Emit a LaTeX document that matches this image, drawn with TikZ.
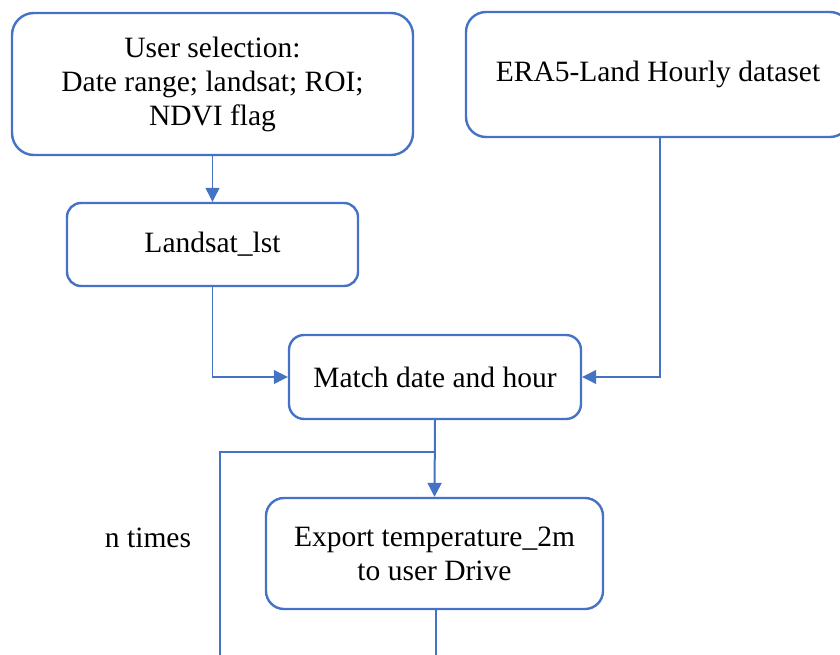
\documentclass[tikz,border=0pt]{standalone}
\usepackage{fontspec}
\setmainfont{Liberation Serif}
\usetikzlibrary{arrows.meta}
\definecolor{obl}{HTML}{4472C4}
\begin{document}
\begin{tikzpicture}[x=1pt,y=-1pt,
  font=\fontsize{29.5}{34}\selectfont,
  boxstyle/.style={draw=obl,line width=2.4pt,align=center,inner sep=0pt,text=black},
  conn/.style={draw=obl,line width=1.2pt},
  arr/.style={conn,-{Triangle[length=14pt,width=14pt]}}]
\useasboundingbox (0,0) rectangle (840,655);
\node[boxstyle,rounded corners=22pt,minimum width=401pt,minimum height=142pt] (b1) at (212.5,84)
  {User selection:\\Date range; landsat; ROI;\\NDVI flag};
\node[boxstyle,rounded corners=20pt,minimum width=384pt,minimum height=125pt] (b2) at (658,74.5)
  {ERA5-Land Hourly dataset};
\node[boxstyle,rounded corners=14pt,minimum width=291pt,minimum height=83pt] (b3) at (212.5,244.5)
  {Landsat\_lst};
\node[boxstyle,rounded corners=15pt,minimum width=292pt,minimum height=84pt] (b4) at (435,377)
  {Match date and hour};
\node[boxstyle,rounded corners=18pt,minimum width=337pt,minimum height=111pt] (b5) at (434.5,553.5)
  {Export temperature\_2m\\to user Drive};
\node[text=black,inner sep=0pt] (nt) at (148,538) {n times};
\coordinate (lb) at (220,658);
\coordinate (jn) at (434,452);
\coordinate (be) at (436,658);
\draw[arr] (b1) -- (b3);
\draw[arr] (b3.south) |- (b4.west);
\draw[arr] ([xshift=2pt]b2.south) |- (b4.east);
\draw[arr,line width=2pt] (b4.south) -- (b5.north);
\draw[conn] (lb) |- (jn);
\draw[conn] (b5.south -| be) -- (be);
\end{tikzpicture}
\end{document}
